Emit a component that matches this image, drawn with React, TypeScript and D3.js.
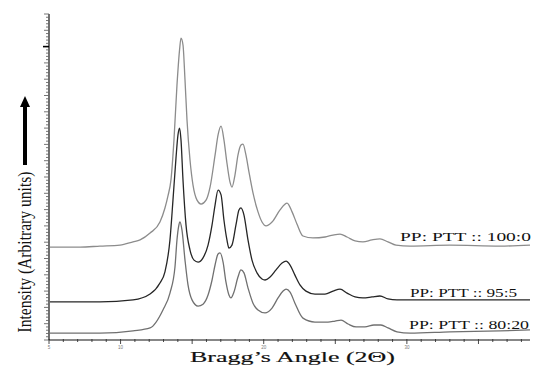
import React, { useEffect, useRef } from 'react';
import * as d3 from 'd3';

// 2θ (deg) and intensity (arbitrary units)
const theta100 = [5.07, 7.17, 8.56, 9.96, 10.87, 11.36, 12.06, 12.75, 13.10, 13.31, 13.52, 13.73, 13.94, 14.12, 14.22, 14.36, 14.50, 14.64, 14.85, 15.06, 15.34, 15.62, 15.97, 16.25, 16.60, 16.81, 17.02, 17.22, 17.43, 17.64, 17.78, 17.99, 18.20, 18.41, 18.55, 18.76, 18.97, 19.25, 19.60, 19.88, 20.16, 20.58, 21.14, 21.63, 21.98, 22.32, 22.74, 23.44, 24.28, 24.84, 25.33, 25.82, 26.38, 26.93, 27.56, 28.12, 28.68, 29.24, 30.22, 33.01, 36.51, 38.60];
const int100 = [285, 285, 288, 291, 301, 307, 328, 362, 405, 442, 491, 614, 782, 890, 926, 905, 798, 675, 552, 475, 429, 417, 429, 469, 567, 629, 656, 614, 543, 485, 469, 506, 567, 598, 601, 567, 515, 451, 393, 362, 350, 362, 399, 420, 393, 356, 319, 313, 316, 322, 325, 316, 304, 301, 307, 310, 301, 291, 288, 291, 288, 291];

const theta95 = [5.07, 8.56, 10.87, 12.06, 12.75, 13.10, 13.45, 13.66, 13.87, 14.01, 14.12, 14.22, 14.36, 14.57, 14.85, 15.13, 15.41, 15.76, 16.11, 16.39, 16.60, 16.81, 17.02, 17.22, 17.43, 17.57, 17.78, 18.06, 18.27, 18.41, 18.62, 18.90, 19.18, 19.53, 19.88, 20.09, 20.44, 20.86, 21.28, 21.56, 21.84, 22.18, 22.53, 22.95, 23.58, 24.28, 24.84, 25.33, 25.82, 26.38, 26.93, 27.56, 28.12, 28.68, 29.31, 33.01, 36.51, 38.60];
const int95 = [117, 117, 123, 141, 175, 209, 307, 429, 558, 629, 650, 614, 491, 353, 276, 245, 239, 252, 291, 353, 414, 460, 445, 368, 307, 282, 291, 353, 399, 405, 383, 307, 245, 206, 187, 184, 193, 215, 236, 242, 230, 199, 169, 150, 141, 141, 150, 156, 144, 132, 129, 132, 135, 126, 123, 123, 123, 123];

const theta80 = [5.07, 8.56, 10.87, 12.06, 12.96, 13.45, 13.80, 13.94, 14.05, 14.15, 14.29, 14.50, 14.71, 14.99, 15.41, 15.76, 16.11, 16.39, 16.60, 16.81, 16.95, 17.16, 17.36, 17.57, 17.71, 17.92, 18.20, 18.41, 18.62, 18.90, 19.25, 19.60, 20.09, 20.58, 21.00, 21.35, 21.56, 21.84, 22.18, 22.74, 23.58, 24.49, 24.98, 25.40, 25.89, 26.45, 27.07, 27.70, 28.19, 28.68, 29.31, 30.22, 33.01, 36.51, 38.60];
const int80 = [21, 21, 28, 37, 92, 144, 224, 307, 347, 362, 337, 245, 169, 123, 104, 110, 138, 184, 230, 264, 267, 239, 178, 138, 129, 147, 193, 215, 206, 160, 113, 92, 83, 98, 129, 150, 156, 147, 113, 67, 55, 55, 58, 61, 49, 40, 40, 46, 46, 37, 25, 21, 25, 28, 31];

const seriesLabels = ['PP: PTT :: 100:0', 'PP: PTT :: 95:5', 'PP: PTT :: 80:20'];
const xTickLabels = [5, 10, 20, 30];

const App = () => {
  const svgRef = useRef<SVGSVGElement>(null);

  useEffect(() => {
    const width = 533;
    const height = 366;
    const svg = d3.select(svgRef.current)
      .attr('width', width)
      .attr('height', height);

    svg.selectAll('*').remove();

    const x = d3.scaleLinear().domain([5, 38.6]).range([49, 530]);
    const y = d3.scaleLinear().domain([0, 1000]).range([340, 14]);

    const series = [
      { t: theta100, v: int100, color: '#8c8c8c', label: seriesLabels[0], lx: 400, ly: 241, lw: 131 },
      { t: theta95, v: int95, color: '#262626', label: seriesLabels[1], lx: 410, ly: 297, lw: 107 },
      { t: theta80, v: int80, color: '#707070', label: seriesLabels[2], lx: 409, ly: 329, lw: 120 },
    ];

    const line = d3.line<[number, number]>()
      .x(d => x(d[0]))
      .y(d => y(d[1]))
      .curve(d3.curveMonotoneX);

    series.forEach(s => {
      const pts = s.t.map((t, i) => [t, s.v[i]] as [number, number]);
      svg.append('path')
        .attr('d', line(pts))
        .attr('fill', 'none')
        .attr('stroke', s.color)
        .attr('stroke-width', 1.3)
        .attr('stroke-linejoin', 'round');
    });

    // y axis with dense ticks on the left
    svg.append('line')
      .attr('x1', 49).attr('x2', 49)
      .attr('y1', y(1000)).attr('y2', y(0))
      .attr('stroke', '#111').attr('stroke-width', 1.2);
    svg.append('g')
      .selectAll('line')
      .data(d3.range(0, 1001, 10))
      .enter()
      .append('line')
      .attr('x1', d => (d === 900 ? 43 : d % 50 === 0 ? 44 : 46))
      .attr('x2', 49)
      .attr('y1', d => y(d))
      .attr('y2', d => y(d))
      .attr('stroke', d => (d === 900 ? '#000' : '#666'))
      .attr('stroke-width', d => (d === 900 ? 1.6 : 0.9));

    // x axis
    svg.append('line')
      .attr('x1', x(5)).attr('x2', x(38.6))
      .attr('y1', 340).attr('y2', 340)
      .attr('stroke', '#111').attr('stroke-width', 1.2);
    svg.append('g')
      .selectAll('line')
      .data(d3.range(5, 39))
      .enter()
      .append('line')
      .attr('x1', d => x(d))
      .attr('x2', d => x(d))
      .attr('y1', 339)
      .attr('y2', d => (d % 5 === 0 ? 344 : 342))
      .attr('stroke', '#333')
      .attr('stroke-width', 0.9);
    svg.append('g')
      .selectAll('text')
      .data(xTickLabels)
      .enter()
      .append('text')
      .attr('x', d => x(d))
      .attr('y', 349)
      .attr('text-anchor', 'middle')
      .attr('font-family', 'Liberation Sans, sans-serif')
      .attr('font-size', 4.5)
      .attr('fill', '#777')
      .text(d => d);

    // series labels
    series.forEach(s => {
      svg.append('text')
        .attr('x', s.lx)
        .attr('y', s.ly)
        .attr('font-family', 'Liberation Serif, serif')
        .attr('font-size', 13)
        .attr('fill', '#111')
        .attr('textLength', s.lw)
        .attr('lengthAdjust', 'spacingAndGlyphs')
        .text(s.label);
    });

    // axis titles
    svg.append('text')
      .attr('x', 190)
      .attr('y', 362)
      .attr('font-family', 'Liberation Serif, serif')
      .attr('font-size', 15)
      .attr('fill', '#111')
      .attr('stroke', '#111')
      .attr('stroke-width', 0.15)
      .attr('textLength', 205)
      .attr('lengthAdjust', 'spacingAndGlyphs')
      .text('Bragg\u2019s Angle (2\u0398)');

    svg.append('text')
      .attr('transform', 'translate(31,252) rotate(-90)')
      .attr('text-anchor', 'middle')
      .attr('font-family', 'Liberation Serif, serif')
      .attr('font-size', 18)
      .attr('fill', '#111')
      .attr('textLength', 161)
      .attr('lengthAdjust', 'spacingAndGlyphs')
      .text('Intensity (Arbitrary units)');

    // upward arrow
    svg.append('line')
      .attr('x1', 25).attr('x2', 25)
      .attr('y1', 165).attr('y2', 104)
      .attr('stroke', '#000').attr('stroke-width', 4);
    svg.append('path')
      .attr('d', 'M20,107 L25,96 L30,107 Z')
      .attr('fill', '#000');
  }, []);

  return (
    <svg ref={svgRef} style={{ position: 'absolute', left: 0, top: 0, background: '#fff' }}></svg>
  );
};

export default App;
